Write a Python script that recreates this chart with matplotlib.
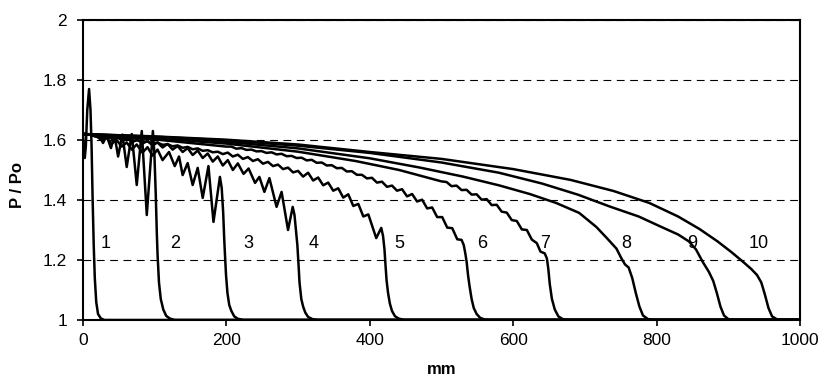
import matplotlib
matplotlib.use("Agg")
from matplotlib import pyplot as plt

plt.rcParams['font.family'] = ['Liberation Sans', 'DejaVu Sans']

# distance along the pipe (mm) and pressure ratio P/Po, one list per run
x1 = [0, 1, 2.5, 4, 6, 8.5, 10.5, 12, 13.5, 15, 16.5, 18.5, 21, 25, 30, 1000]
y1 = [1.62, 1.58, 1.54, 1.58, 1.70, 1.77, 1.70, 1.58, 1.40, 1.25, 1.14, 1.06, 1.02, 1.005, 1.0, 1.0]

x2 = [0, 10, 18, 22, 28, 33, 39, 44, 49, 55, 61, 68, 75, 82, 89, 97.5, 99.5, 101.5, 103, 104,
      106, 108.5, 112, 116, 121, 128, 1000]
y2 = [1.62, 1.618, 1.612, 1.616, 1.59, 1.615, 1.573, 1.616, 1.545, 1.618, 1.51, 1.62, 1.45, 1.63,
      1.35, 1.63, 1.56, 1.42, 1.29, 1.22, 1.125, 1.07, 1.035, 1.014, 1.005, 1.0, 1.0]

x3 = [0, 10, 20, 27, 33, 40, 47, 54, 61, 68, 75, 83, 90, 97, 104, 111, 120, 128, 134, 139, 146,
      153, 160, 167, 175, 182, 191, 193.5, 195.5, 197, 198, 199.5, 201.5, 204, 207, 211, 216, 224, 1000]
y3 = [1.62, 1.617, 1.61, 1.598, 1.607, 1.588, 1.600, 1.578, 1.592, 1.568, 1.585, 1.558, 1.576,
      1.548, 1.568, 1.533, 1.560, 1.513, 1.545, 1.483, 1.523, 1.45, 1.507, 1.407, 1.513, 1.327,
      1.477, 1.44, 1.36, 1.27, 1.22, 1.15, 1.09, 1.05, 1.03, 1.012, 1.004, 1.0, 1.0]

x4 = [0, 10, 20, 27, 34, 41, 48, 55, 62, 69, 76, 83, 90, 97, 104, 111, 118, 125, 132, 139, 146,
      153, 160, 167, 174, 181, 188, 195, 202, 209, 216, 224, 231, 240, 246, 253, 260, 270, 277,
      286, 292.5, 295, 297, 299, 300.5, 302, 304.5, 307, 310, 314, 320, 328, 1000]
y4 = [1.620, 1.618, 1.614, 1.606, 1.612, 1.603, 1.609, 1.598, 1.605, 1.593, 1.601, 1.588, 1.597,
      1.582, 1.592, 1.575, 1.587, 1.568, 1.580, 1.560, 1.573, 1.550, 1.565, 1.540, 1.555, 1.528,
      1.545, 1.515, 1.533, 1.500, 1.522, 1.487, 1.505, 1.457, 1.477, 1.427, 1.473, 1.377, 1.427,
      1.30, 1.377, 1.35, 1.30, 1.25, 1.19, 1.125, 1.07, 1.045, 1.025, 1.01, 1.003, 1.0, 1.0]

x5 = [0, 20, 27, 34, 41, 48, 55, 62, 69, 76, 83, 90, 97, 104, 111, 118, 125, 132, 139, 146, 153,
      160, 167, 174, 181, 188, 195, 202, 209, 216, 223, 230, 237, 244, 251, 258, 265, 272, 279,
      286, 293, 300, 307, 314, 321, 328, 335, 342, 349, 356, 363, 370, 377, 384, 391, 398, 409,
      416, 418.5, 420.5, 422, 423.5, 425.5, 428, 431, 435, 440, 448, 1000]
y5 = [1.620, 1.6165, 1.611, 1.612, 1.607, 1.608, 1.603, 1.603, 1.598, 1.599, 1.594, 1.595, 1.589,
      1.591, 1.584, 1.586, 1.579, 1.582, 1.574, 1.577, 1.569, 1.572, 1.564, 1.566, 1.559, 1.561,
      1.553, 1.558, 1.545, 1.551, 1.537, 1.543, 1.530, 1.536, 1.521, 1.527, 1.513, 1.518, 1.503,
      1.508, 1.492, 1.497, 1.478, 1.491, 1.465, 1.475, 1.449, 1.458, 1.431, 1.439, 1.408, 1.419,
      1.380, 1.387, 1.345, 1.352, 1.273, 1.307, 1.28, 1.235, 1.18, 1.13, 1.09, 1.055, 1.03, 1.013,
      1.005, 1.0, 1.0]

x6 = [0, 100, 150, 200, 207, 214, 221, 228, 235, 242, 249, 256, 263, 270, 277, 284, 291, 298,
      305, 312, 319, 326, 333, 340, 347, 354, 361, 368, 375, 382, 389, 396, 403, 410, 417, 424,
      431, 438, 445, 452, 459, 466, 473, 480, 487, 494, 501, 508, 515, 522, 528, 531, 533, 535,
      537, 539, 542, 545, 549, 554, 562, 1000]
y6 = [1.620, 1.602, 1.590, 1.578, 1.578, 1.571, 1.573, 1.567, 1.568, 1.562, 1.563, 1.557, 1.559,
      1.552, 1.554, 1.546, 1.547, 1.540, 1.541, 1.532, 1.534, 1.524, 1.525, 1.515, 1.516, 1.506,
      1.507, 1.495, 1.496, 1.484, 1.484, 1.472, 1.474, 1.458, 1.461, 1.444, 1.448, 1.431, 1.436,
      1.412, 1.420, 1.395, 1.401, 1.372, 1.375, 1.343, 1.343, 1.308, 1.306, 1.269, 1.267, 1.25,
      1.225, 1.195, 1.15, 1.115, 1.07, 1.04, 1.02, 1.007, 1.0, 1.0]

x7 = [0, 100, 200, 300, 380, 441, 500, 507, 514, 521, 528, 535, 542, 549, 556, 563, 570, 577,
      584, 591, 598, 605, 612, 619, 626, 633, 638, 641, 644, 647, 649, 651, 654, 658, 663, 669,
      676, 1000]
y7 = [1.620, 1.606, 1.588, 1.561, 1.530, 1.500, 1.462, 1.460, 1.446, 1.448, 1.433, 1.434, 1.418,
      1.419, 1.401, 1.403, 1.383, 1.384, 1.361, 1.358, 1.333, 1.330, 1.302, 1.300, 1.268, 1.256,
      1.228, 1.225, 1.222, 1.205, 1.17, 1.12, 1.07, 1.035, 1.012, 1.003, 1.0, 1.0]

x8 = [0, 100, 200, 300, 400, 470, 530, 580, 623, 660, 692, 716, 731, 744, 751, 756, 761, 766,
      771, 776, 781, 788, 796, 1000]
y8 = [1.620, 1.609, 1.594, 1.572, 1.539, 1.508, 1.478, 1.449, 1.420, 1.390, 1.357, 1.310, 1.272,
      1.238, 1.205, 1.185, 1.175, 1.14, 1.09, 1.045, 1.015, 1.003, 1.0, 1.0]

x9 = [0, 100, 200, 300, 400, 500, 580, 640, 690, 735, 775, 805, 830, 845, 855, 864, 873, 879,
      884, 889, 894, 900, 908, 1000]
y9 = [1.620, 1.611, 1.599, 1.581, 1.557, 1.525, 1.491, 1.455, 1.418, 1.378, 1.345, 1.312, 1.285,
      1.262, 1.235, 1.195, 1.160, 1.130, 1.090, 1.045, 1.015, 1.003, 1.0, 1.0]

x10 = [0, 100, 200, 300, 400, 500, 600, 680, 740, 790, 830, 860, 885, 905, 920, 932, 940, 946,
       951, 956, 961, 968, 975, 1000]
y10 = [1.620, 1.612, 1.601, 1.585, 1.560, 1.537, 1.503, 1.467, 1.430, 1.390, 1.345, 1.303, 1.262,
       1.225, 1.195, 1.170, 1.150, 1.125, 1.085, 1.040, 1.012, 1.002, 1.0, 1.0]

runs_x = [x1, x2, x3, x4, x5, x6, x7, x8, x9, x10]
runs_y = [y1, y2, y3, y4, y5, y6, y7, y8, y9, y10]

run_labels = ['1', '2', '3', '4', '5', '6', '7', '8', '9', '10']
label_x = [32, 128, 231, 321, 441, 557, 645, 758, 850, 943]
label_y = 1.255

fig = plt.figure(figsize=(8.28, 3.79), dpi=100)
ax = fig.add_axes([0.1002, 0.1557, 0.866, 0.7915])

for xs, ys in zip(runs_x, runs_y):
    ax.plot(xs, ys, color='black', lw=1.8, solid_joinstyle='round', solid_capstyle='round')

for lab, lx in zip(run_labels, label_x):
    ax.text(lx, label_y, lab, fontsize=13, ha='center', va='center')

ax.set_xlim(0, 1000)
ax.set_ylim(1, 2)
ax.set_xticks([0, 200, 400, 600, 800, 1000])
ax.set_yticks([1, 1.2, 1.4, 1.6, 1.8, 2])
ax.set_yticklabels(['1', '1.2', '1.4', '1.6', '1.8', '2'])

ax.yaxis.grid(True, color='black', lw=0.8, linestyle=(0, (7, 5)))
ax.set_axisbelow(True)

for sp in ax.spines.values():
    sp.set_linewidth(1.5)
    sp.set_color('black')

ax.tick_params(axis='both', direction='out', length=4.5, width=1.2, labelsize=12.5, colors='black')
ax.tick_params(axis='y', pad=7)
ax.tick_params(axis='x', pad=5)

ax.set_ylabel('P / Po', fontsize=12, fontweight='bold')
ax.yaxis.set_label_coords(-0.081, 0.45)
ax.set_xlabel('mm', fontsize=12, fontweight='bold')
ax.xaxis.set_label_coords(0.5, -0.14)

fig.savefig('out.png', dpi=100)
